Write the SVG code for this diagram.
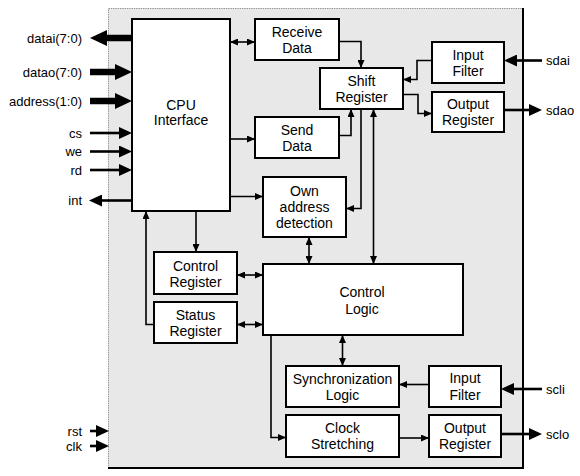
<svg xmlns="http://www.w3.org/2000/svg" width="580" height="476" viewBox="0 0 580 476">
<style>
text{font-family:"Liberation Sans",Arial,sans-serif;fill:#000}
.bt{font-size:14px;text-anchor:middle}
.lb{font-size:13px}
.r{text-anchor:end}
.box{fill:#fff;stroke:#000;stroke-width:2}
.c{fill:none;stroke:#000;stroke-width:1.6}
.d{marker-end:url(#a)}
.dd{marker-start:url(#a);marker-end:url(#a)}
.w{fill:none;stroke:#000;stroke-width:6.5}
.m{fill:none;stroke:#000;stroke-width:2.6}
</style>
<defs>
<marker id="a" markerUnits="userSpaceOnUse" markerWidth="8" markerHeight="7" refX="8" refY="3.5" orient="auto-start-reverse" viewBox="0 0 8 7"><path d="M0,0L8,3.5L0,7z"/></marker>
<marker id="big" markerUnits="userSpaceOnUse" markerWidth="17" markerHeight="16" refX="0" refY="8" orient="auto" viewBox="0 0 17 16"><path d="M0,0L17,8L0,16z"/></marker>
<marker id="med" markerUnits="userSpaceOnUse" markerWidth="13" markerHeight="12" refX="0" refY="6" orient="auto" viewBox="0 0 13 12"><path d="M0,0L13,6L0,12z"/></marker>
</defs>
<g id="chip">
<rect x="108.5" y="8.5" width="414.5" height="459.5" fill="#e8e8e8" stroke="#999" stroke-width="1" stroke-dasharray="1.5,0.8"/>
<path d="M523,8V468H108" fill="none" stroke="#000" stroke-width="2"/>
</g>
<g id="connectors">
<!-- external -->
<path class="w" d="M132,38H107" marker-end="url(#big)"/>
<path class="w" d="M90,72H115" marker-end="url(#big)"/>
<path class="w" d="M90,101H115" marker-end="url(#big)"/>
<path class="m" d="M90,133H119" marker-end="url(#med)"/>
<path class="m" d="M90,151.5H119" marker-end="url(#med)"/>
<path class="m" d="M90,170H119" marker-end="url(#med)"/>
<path class="m" d="M132,200.5H102" marker-end="url(#med)"/>
<path class="m" d="M90,431H96" marker-end="url(#med)"/>
<path class="m" d="M90,446H96" marker-end="url(#med)"/>
<path class="m" d="M542,60.5H517" marker-end="url(#med)"/>
<path class="m" d="M504,110H529" marker-end="url(#med)"/>
<path class="m" d="M542,389H514" marker-end="url(#med)"/>
<path class="m" d="M501,434H529" marker-end="url(#med)"/>
<!-- internal -->
<path class="c dd" d="M230,42H255"/>
<path class="c d" d="M339,41.5H361V68"/>
<path class="c d" d="M432,60.5H417V79.5H403"/>
<path class="c d" d="M403,94.5H418V113.5H432"/>
<path class="c d" d="M339,135.5H351V109"/>
<path class="c d" d="M361,109V208.5H346"/>
<path class="c dd" d="M373.5,109V264"/>
<path class="c d" d="M230,139H255"/>
<path class="c d" d="M230,196.5H263"/>
<path class="c dd" d="M309,237V264"/>
<path class="c d" d="M196,211V252"/>
<path class="c d" d="M154,324.5H146V211"/>
<path class="c dd" d="M237,275H263"/>
<path class="c dd" d="M237,324.5H263"/>
<path class="c dd" d="M342.5,335V366"/>
<path class="c d" d="M429,384.5H399"/>
<path class="c d" d="M271,335V437.5H286"/>
<path class="c d" d="M399,438H429"/>
</g>
<g id="cpu"><rect class="box" x="132" y="19" width="98" height="192"/><text class="bt" x="181" y="110">CPU</text><text class="bt" x="181" y="125">Interface</text></g>
<g id="receive"><rect class="box" x="255" y="19" width="84" height="41"/><text class="bt" x="297" y="37">Receive</text><text class="bt" x="297" y="53">Data</text></g>
<g id="send"><rect class="box" x="255" y="117" width="84" height="41"/><text class="bt" x="297" y="134.5">Send</text><text class="bt" x="297" y="150.5">Data</text></g>
<g id="own"><rect class="box" x="263" y="177" width="83" height="60"/><text class="bt" x="304.5" y="196">Own</text><text class="bt" x="304.5" y="212">address</text><text class="bt" x="304.5" y="228">detection</text></g>
<g id="shift"><rect class="box" x="320" y="68" width="83" height="41"/><text class="bt" x="361.5" y="86">Shift</text><text class="bt" x="361.5" y="102">Register</text></g>
<g id="infilt1"><rect class="box" x="432" y="42" width="72" height="41"/><text class="bt" x="468" y="59.5">Input</text><text class="bt" x="468" y="75.5">Filter</text></g>
<g id="outreg1"><rect class="box" x="432" y="92" width="72" height="40"/><text class="bt" x="468" y="108.5">Output</text><text class="bt" x="468" y="124.5">Register</text></g>
<g id="ctrlreg"><rect class="box" x="154" y="252" width="83" height="42"/><text class="bt" x="195.5" y="271">Control</text><text class="bt" x="195.5" y="287">Register</text></g>
<g id="statreg"><rect class="box" x="154" y="302" width="83" height="41"/><text class="bt" x="195.5" y="319.5">Status</text><text class="bt" x="195.5" y="336">Register</text></g>
<g id="ctrllogic"><rect class="box" x="263" y="264" width="200" height="71"/><text class="bt" x="362" y="297">Control</text><text class="bt" x="362" y="314">Logic</text></g>
<g id="sync"><rect class="box" x="286" y="366" width="113" height="41"/><text class="bt" x="342.5" y="383.5">Synchronization</text><text class="bt" x="342.5" y="399.5">Logic</text></g>
<g id="clkstr"><rect class="box" x="286" y="415" width="113" height="42"/><text class="bt" x="342.5" y="433">Clock</text><text class="bt" x="342.5" y="449">Stretching</text></g>
<g id="infilt2"><rect class="box" x="429" y="366" width="72" height="41"/><text class="bt" x="465" y="383">Input</text><text class="bt" x="465" y="399.5">Filter</text></g>
<g id="outreg2"><rect class="box" x="429" y="415" width="72" height="42"/><text class="bt" x="465" y="433">Output</text><text class="bt" x="465" y="449">Register</text></g>
<g id="labels">
<text class="lb r" x="82" y="42.5">datai(7:0)</text>
<text class="lb r" x="82" y="76.5">datao(7:0)</text>
<text class="lb r" x="82" y="105.5">address(1:0)</text>
<text class="lb r" x="82" y="137.5">cs</text>
<text class="lb r" x="82" y="156">we</text>
<text class="lb r" x="82" y="174.5">rd</text>
<text class="lb r" x="82" y="205">int</text>
<text class="lb r" x="82" y="435.5">rst</text>
<text class="lb r" x="82" y="450.5">clk</text>
<text class="lb" x="546" y="65">sdai</text>
<text class="lb" x="546" y="114.5">sdao</text>
<text class="lb" x="546" y="394">scli</text>
<text class="lb" x="546" y="438.5">sclo</text>
</g>
</svg>
